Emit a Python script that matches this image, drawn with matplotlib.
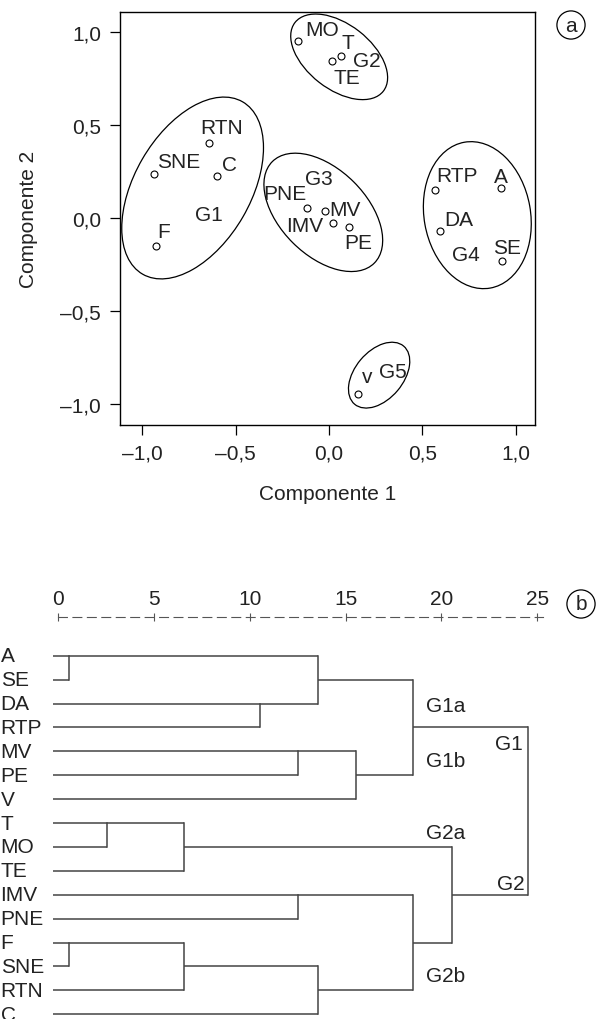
import matplotlib
matplotlib.use('Agg')
import matplotlib.pyplot as plt
from matplotlib.patches import Ellipse
import matplotlib.transforms as mtransforms

plt.rcParams['font.family'] = ['Liberation Sans', 'DejaVu Sans']

# datos (a): componentes principales
names = ['MO', 'T', 'TE', 'RTN', 'SNE', 'C', 'F', 'PNE', 'MV', 'IMV', 'PE',
         'RTP', 'A', 'DA', 'SE', 'v']
comp1 = [-0.166, 0.063, 0.018, -0.645, -0.937, -0.600, -0.927, -0.116, -0.021,
         0.023, 0.107, 0.569, 0.920, 0.595, 0.928, 0.154]
comp2 = [0.950, 0.869, 0.846, 0.403, 0.238, 0.226, -0.152, 0.052, 0.039,
         -0.029, -0.047, 0.150, 0.161, -0.072, -0.233, -0.948]

groups = ['G1', 'G2', 'G3', 'G4', 'G5']
group_cx = [-0.731, 0.054, -0.031, 0.794, 0.268]
group_cy = [0.161, 0.866, 0.030, 0.015, -0.845]
group_a = [0.535, 0.300, 0.386, 0.398, 0.204]
group_b = [0.311, 0.174, 0.231, 0.285, 0.129]
group_ang = [60, -38, -45, 100, 50]

ticks_pc = [-1.0, -0.5, 0.0, 0.5, 1.0]
ticklabels_pc = ['–1,0', '–0,5', '0,0', '0,5', '1,0']

# datos (b): dendrograma
leaves = ['A', 'SE', 'DA', 'RTP', 'MV', 'PE', 'V', 'T', 'MO', 'TE', 'IMV',
          'PNE', 'F', 'SNE', 'RTN', 'C']
merge_a = [0, 12, 7, 18, 17, 2, 4, 10, 16, 20, 22, 24, 23, 19, 27]
merge_b = [1, 13, 8, 9, 14, 3, 5, 11, 21, 15, 6, 26, 25, 28, 29]
merge_h = [0.56, 0.56, 2.53, 6.54, 6.54, 10.53, 12.53, 12.53, 13.54, 13.54,
           15.54, 18.53, 18.53, 20.55, 24.53]
dist_ticks = [0, 5, 10, 15, 20, 25]

txt = '#222222'
fs = 15

# desplazamientos de las etiquetas (puntos)
lab_off = {'MO': (17, 8.6), 'T': (4.8, 10.1), 'TE': (10.4, -12), 'RTN': (9.6, 11.3),
           'SNE': (17.5, 8.9), 'C': (9.1, 8.1), 'F': (5.8, 10.5), 'PNE': (-16, 10.8),
           'MV': (13.9, 1.2), 'IMV': (-20.9, -1.7), 'PE': (6.7, -11.2),
           'RTP': (15.4, 10.3), 'A': (0, 8.1), 'DA': (13.2, 8.4), 'SE': (3.2, 9.6),
           'v': (6.5, 12.7)}
group_lab = {'G1': (-0.646, 0.016), 'G2': (0.20, 0.846), 'G3': (-0.057, 0.21),
             'G4': (0.734, -0.199), 'G5': (0.344, -0.826)}

fig = plt.figure(figsize=(5.98, 10.20), dpi=100)

# ---- (a) ----
ax = fig.add_axes([120 / 598, 1 - 426 / 1020, 415 / 598, 413 / 1020])
ax.plot(comp1, comp2, 'o', ms=5, mfc='white', mec='black', mew=0.8, ls='none')
for n, x, y in zip(names, comp1, comp2):
    ax.annotate(n, (x, y), xytext=lab_off[n], textcoords='offset points',
                ha='center', va='center', fontsize=fs, color=txt)
for g, cx, cy, a, b, ang in zip(groups, group_cx, group_cy, group_a, group_b, group_ang):
    ax.add_patch(Ellipse((cx, cy), 2 * a, 2 * b, angle=ang, fill=False,
                         ec='black', lw=0.9))
    gx, gy = group_lab[g]
    ax.text(gx, gy, g, ha='center', va='center', fontsize=fs, color=txt)

ax.set_xlim(-1.12, 1.103)
ax.set_ylim(-1.113, 1.107)
ax.set_xticks(ticks_pc)
ax.set_xticklabels(ticklabels_pc)
ax.set_yticks(ticks_pc)
ax.set_yticklabels(ticklabels_pc)
ax.tick_params(direction='out', length=7.5, width=0.9, labelsize=fs,
               labelcolor=txt, pad=6)
for s in ax.spines.values():
    s.set_linewidth(1.0)
ax.set_xlabel('Componente 1', fontsize=fs, color=txt, labelpad=15)
ax.set_ylabel('Componente 2', fontsize=fs, color=txt, labelpad=16)
fig.text(571 / 598, 1 - 26 / 1020, 'a', ha='center', va='center', fontsize=fs,
         color=txt, bbox=dict(boxstyle='circle,pad=0.22', fc='white', ec='black', lw=0.9))

# ---- (b) ----
bx = fig.add_axes([0, 0, 1, 440 / 1020])
bx.set_xlim(-3.043, 28.17)
bx.set_ylim(15.197, -3.208)
leaf_x = -0.26
lc = '#444444'
lw = 1.1

pos_row = list(range(len(leaves)))
pos_x = [leaf_x] * len(leaves)
for a, b, h in zip(merge_a, merge_b, merge_h):
    ra, rb = pos_row[a], pos_row[b]
    bx.plot([pos_x[a], h], [ra, ra], color=lc, lw=lw, solid_capstyle='butt')
    bx.plot([pos_x[b], h], [rb, rb], color=lc, lw=lw, solid_capstyle='butt')
    bx.plot([h, h], [ra, rb], color=lc, lw=lw, solid_capstyle='projecting')
    pos_row.append((ra + rb) // 2)
    pos_x.append(h)

trans = mtransforms.blended_transform_factory(bx.transAxes, bx.transData)
for i, n in enumerate(leaves):
    bx.text(0.001, i, n, transform=trans, ha='left', va='center', fontsize=fs, color=txt)

dendro_lab = [('G1a', 19.19, 2.09, 'left'), ('G1b', 19.19, 4.39, 'left'),
              ('G1', 24.24, 3.69, 'right'), ('G2a', 19.19, 7.39, 'left'),
              ('G2', 24.36, 9.51, 'right'), ('G2b', 19.19, 13.39, 'left')]
for t, x, y, ha in dendro_lab:
    bx.text(x, y, t, ha=ha, va='center', fontsize=fs, color=txt)

for k in ['left', 'right', 'bottom']:
    bx.spines[k].set_visible(False)
bx.spines['top'].set_position(('data', -1.606))
bx.spines['top'].set_bounds(0, 25.3)
bx.spines['top'].set_linestyle((0, (8, 5)))
bx.spines['top'].set_linewidth(0.8)
bx.spines['top'].set_color('#555555')
bx.xaxis.tick_top()
bx.set_xticks(dist_ticks)
bx.set_yticks([])
bx.tick_params(axis='x', direction='inout', length=6, width=0.8, color='#555555',
               labelsize=fs, labelcolor=txt, pad=4)
fig.text(581 / 598, 1 - 605 / 1020, 'b', ha='center', va='center', fontsize=fs,
         color=txt, bbox=dict(boxstyle='circle,pad=0.22', fc='white', ec='black', lw=0.9))

fig.savefig('out.png', dpi=100)
